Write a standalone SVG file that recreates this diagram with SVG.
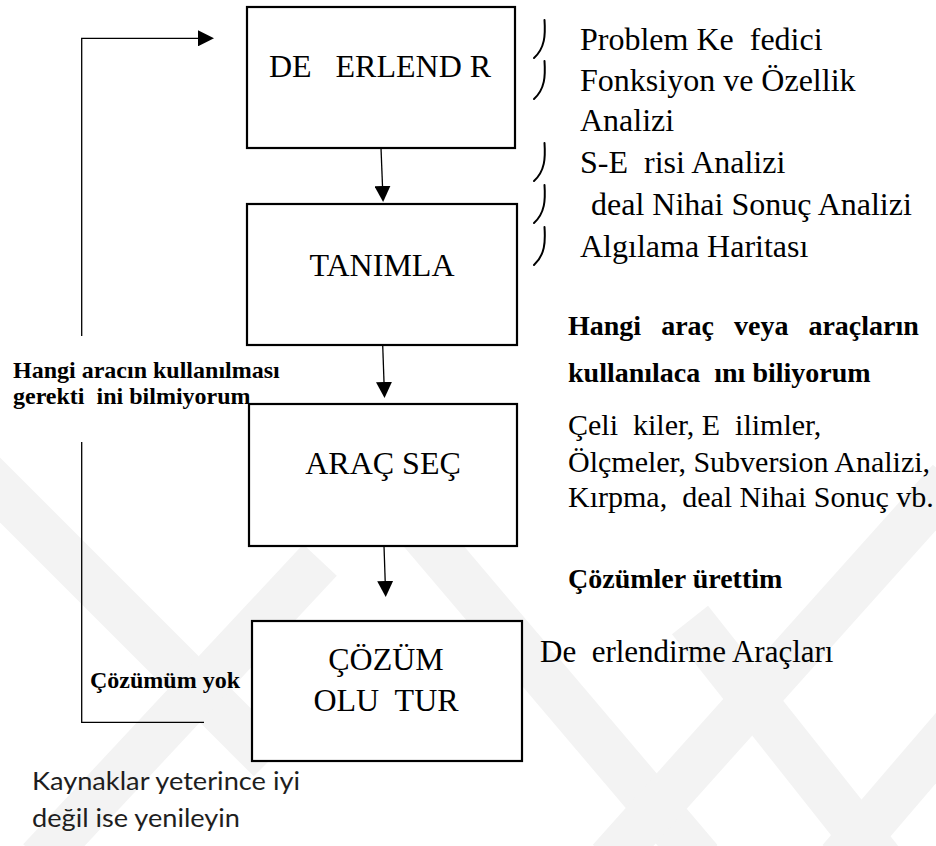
<svg xmlns="http://www.w3.org/2000/svg" width="936" height="846" viewBox="0 0 936 846">
  <style>
    .serif { font-family: "Liberation Serif", Tinos, "Times New Roman", "DejaVu Serif", serif; }
    .box { fill: #ffffff; stroke: #000000; stroke-width: 2.2; }
    .lbl { font-size: 32px; fill: #000000; text-anchor: middle; }
    .item { font-size: 32px; fill: #000000; }
    .note { font-size: 30px; fill: #000000; }
    .head { font-size: 28px; font-weight: bold; fill: #000000; }
    .side { font-size: 24px; font-weight: bold; fill: #000000; }
    .sans { font-family: Lato, "Open Sans", sans-serif; font-size: 25px; fill: #1e1e1e; }
    .wire { fill: none; stroke: #000000; stroke-width: 1.3; }
    .bullet { fill: none; stroke: #000000; stroke-width: 2; stroke-linecap: round; }
    .mark { fill: none; stroke: #f3f3f3; stroke-width: 46; }
  </style>
  <defs>
    <marker id="head" viewBox="0 0 16 16" refX="0" refY="8" markerWidth="16" markerHeight="16" markerUnits="userSpaceOnUse" orient="auto">
      <path d="M0,0 L16,8 L0,16 Z" fill="#000000"/>
    </marker>
  </defs>

  <rect width="936" height="846" fill="#ffffff"/>

  <!-- faint background watermark bands -->
  <g id="watermark">
    <line class="mark" x1="-20" y1="470" x2="270" y2="760"/>
    <line class="mark" x1="40" y1="860" x2="320" y2="560"/>
    <line class="mark" x1="420" y1="530" x2="700" y2="860"/>
    <line class="mark" x1="950" y1="480" x2="610" y2="860"/>
    <line class="mark" x1="690" y1="620" x2="880" y2="860"/>
    <line class="mark" x1="960" y1="720" x2="840" y2="860"/>
  </g>

  <!-- connectors -->
  <g id="connectors">
    <line class="wire" x1="381" y1="148" x2="382.5" y2="186" marker-end="url(#head)"/>
    <line class="wire" x1="382.7" y1="345" x2="384" y2="382" marker-end="url(#head)"/>
    <line class="wire" x1="384" y1="546" x2="385.2" y2="581" marker-end="url(#head)"/>
    <path class="wire" d="M81.7,336 V38.3 H198" marker-end="url(#head)"/>
    <path class="wire" d="M81.7,442 V722.3 H204"/>
  </g>

  <g id="degerlendir">
    <rect class="box" x="247" y="7" width="268" height="141"/>
    <text class="serif lbl" x="380" y="77" xml:space="preserve">DE   ERLEND R</text>
  </g>

  <g id="tanimla">
    <rect class="box" x="247" y="204" width="270" height="141"/>
    <text class="serif lbl" x="382" y="276">TANIMLA</text>
  </g>

  <g id="arac-sec">
    <rect class="box" x="249" y="404" width="268" height="142"/>
    <text class="serif lbl" x="383" y="474">ARAÇ SEÇ</text>
  </g>

  <g id="cozum-olustur">
    <rect class="box" x="252" y="621" width="270" height="140"/>
    <text class="serif lbl" x="386" y="670">ÇÖZÜM</text>
    <text class="serif lbl" x="386" y="711" xml:space="preserve">OLU  TUR</text>
  </g>

  <!-- method list beside the first step -->
  <g id="method-list">
    <path class="bullet" d="M544.5,20 C545.5,35 545,48 534,58"/>
    <path class="bullet" d="M544.5,61 C545.5,76 545,89 534,99"/>
    <path class="bullet" d="M544.5,143 C545.5,158 545,171 534,181"/>
    <path class="bullet" d="M544.5,185 C545.5,200 545,213 534,223"/>
    <path class="bullet" d="M544.5,227 C545.5,242 545,255 534,265"/>
    <text class="serif item" x="580" y="50" xml:space="preserve">Problem Ke  fedici</text>
    <text class="serif item" x="580" y="91">Fonksiyon ve Özellik</text>
    <text class="serif item" x="580" y="131">Analizi</text>
    <text class="serif item" x="580" y="173" xml:space="preserve">S-E  risi Analizi</text>
    <text class="serif item" x="591" y="215">deal Nihai Sonuç Analizi</text>
    <text class="serif item" x="580" y="257">Algılama Haritası</text>
  </g>

  <g id="tools-known">
    <text class="serif head" x="568" y="335" word-spacing="13">Hangi araç veya araçların</text>
    <text class="serif head" x="568" y="382" xml:space="preserve">kullanılaca  ını biliyorum</text>
    <text class="serif note" x="568" y="435" xml:space="preserve">Çeli  kiler, E  ilimler,</text>
    <text class="serif note" x="568" y="472">Ölçmeler, Subversion Analizi,</text>
    <text class="serif note" x="568" y="507" xml:space="preserve">Kırpma,  deal Nihai Sonuç vb.</text>
  </g>

  <g id="solutions">
    <text class="serif head" x="568" y="588">Çözümler ürettim</text>
    <text class="serif note" x="540" y="662" style="font-size:31px" xml:space="preserve">De  erlendirme Araçları</text>
  </g>

  <g id="loop-labels">
    <text class="serif side" x="13" y="378">Hangi aracın kullanılması</text>
    <text class="serif side" x="13" y="404" xml:space="preserve">gerekti  ini bilmiyorum</text>
    <text class="serif side" x="90" y="688">Çözümüm yok</text>
  </g>

  <g id="resources-note">
    <text class="sans" x="32" y="790" textLength="268" lengthAdjust="spacingAndGlyphs">Kaynaklar yeterince iyi</text>
    <text class="sans" x="32" y="827" textLength="208" lengthAdjust="spacingAndGlyphs">değil ise yenileyin</text>
  </g>
</svg>
